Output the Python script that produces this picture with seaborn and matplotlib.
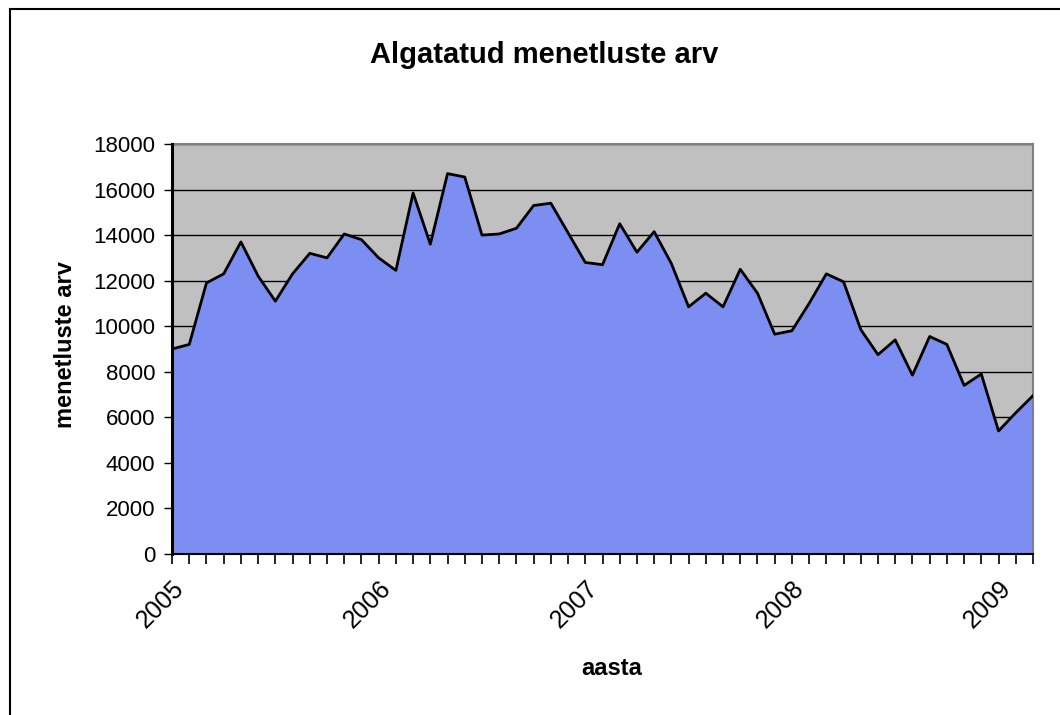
import matplotlib
matplotlib.use("Agg")
import matplotlib.pyplot as plt
import seaborn as sns
import pandas as pd
from matplotlib.patches import Rectangle

# monthly values, Jan 2005 - Mar 2009
months = pd.date_range("2005-01-01", "2009-03-01", freq="MS")
values = [9000, 9200, 11900, 12300, 13700, 12200, 11100, 12300, 13200, 13000,
          14050, 13800, 13000, 12450, 15850, 13600, 16700, 16550, 14000, 14050,
          14300, 15300, 15400, 14100, 12800, 12700, 14500, 13250, 14150, 12750,
          10850, 11450, 10850, 12500, 11450, 9650, 9800, 11000, 12300, 11950,
          9850, 8750, 9400, 7850, 9550, 9200, 7400, 7900, 5400, 6200, 6950]
year_labels = ["2005", "2006", "2007", "2008", "2009"]

df = pd.DataFrame({"idx": range(len(months)), "menetlused": values})

sns.set_style("white")
plt.rcParams["font.family"] = ["Liberation Sans", "DejaVu Sans"]
plt.rcParams["text.color"] = "black"
plt.rcParams["axes.labelcolor"] = "black"
plt.rcParams["xtick.color"] = "black"
plt.rcParams["ytick.color"] = "black"

fig = plt.figure(figsize=(10.6, 7.15), dpi=100)
ax = fig.add_axes([0.1623, 0.2252, 0.8122, 0.5734])
ax.set_facecolor("#C0C0C0")

ax.fill_between(df["idx"], df["menetlused"], 0, color="#7D8EF3", zorder=2)
sns.lineplot(data=df, x="idx", y="menetlused", color="black", linewidth=2,
             ax=ax, zorder=3)

ax.set_xlim(0, len(months) - 1)
ax.set_ylim(0, 18000)
ax.set_yticks(range(0, 18001, 2000))
ax.yaxis.grid(True, color="black", linewidth=1, zorder=1)
ax.set_axisbelow(True)

ax.set_xticks([0, 12, 24, 36, 48])
ax.set_xticklabels(year_labels, rotation=45, ha="right", rotation_mode="anchor")
ax.set_xticks(range(len(months)), minor=True)
ax.tick_params(axis="x", which="both", direction="out", length=7, width=1.2,
               color="black", bottom=True, pad=9)
ax.tick_params(axis="y", direction="out", length=6, width=1, color="black",
               left=True, pad=6)
for lbl in ax.get_yticklabels():
    lbl.set_fontsize(16)
for lbl in ax.get_xticklabels():
    lbl.set_fontsize(18)

for s in ["top", "right"]:
    ax.spines[s].set_color("#808080")
    ax.spines[s].set_linewidth(1.5)
ax.spines["left"].set_color("black")
ax.spines["left"].set_linewidth(2.2)
ax.spines["bottom"].set_color("black")
ax.spines["bottom"].set_linewidth(1.5)
ax.spines["left"].set_zorder(5)

ax.set_xlabel("aasta", fontsize=17, fontweight="bold")
ax.set_ylabel("menetluste arv", fontsize=17, fontweight="bold")
ax.xaxis.set_label_coords(0.511, -0.252)
ax.yaxis.set_label_coords(-0.110, 0.51)

fig.text(544 / 1060, 1 - 55 / 715, "Algatatud menetluste arv", fontsize=21,
         fontweight="bold", ha="center", va="center")

# chart border
fig.patches.append(Rectangle((10 / 1060, -0.1), 1.2, 1.1 - 9 / 715,
                             transform=fig.transFigure, fill=False,
                             edgecolor="black", linewidth=1.5))

fig.savefig("out.png", dpi=100)
